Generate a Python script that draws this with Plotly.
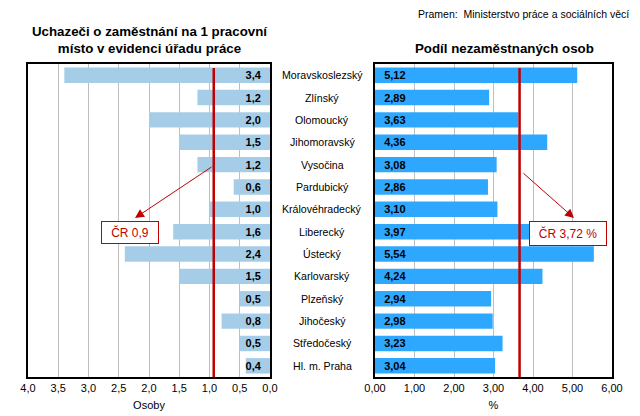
import plotly.graph_objects as go

# kraje odshora dolu
kraje = ["Moravskoslezský", "Zlínský", "Olomoucký", "Jihomoravský", "Vysočina",
         "Pardubický", "Královéhradecký", "Liberecký", "Ústecký", "Karlovarský",
         "Plzeňský", "Jihočeský", "Středočeský", "Hl. m. Praha"]
uchazeci = [3.4, 1.2, 2.0, 1.5, 1.2, 0.6, 1.0, 1.6, 2.4, 1.5, 0.5, 0.8, 0.5, 0.4]
podil = [5.12, 2.89, 3.63, 4.36, 3.08, 2.86, 3.10, 3.97, 5.54, 4.24, 2.94, 2.98, 3.23, 3.04]
cr_uchazeci = 0.93
cr_podil = 3.66
cr_uchazeci_text = "ČR 0,9"
cr_podil_text = "ČR 3,72 %"

FONT = "Arial, Liberation Sans, sans-serif"
RED = "#C00000"
W, H = 640, 416
OFF = 8  # okraj stranky v prohlizeci


def px(x):
    return (x - OFF) / W


def py(y):
    return 1 - (y - OFF) / H


fig = go.Figure()

fig.add_trace(go.Bar(
    y=kraje, x=uchazeci, orientation="h",
    marker=dict(color="#A6CDE8", line=dict(width=0)),
    texttemplate="<b>%{x:.1f}</b>\u00a0\u00a0",
    textposition="inside", insidetextanchor="start",
    textfont=dict(size=11, color="black", family=FONT),
    constraintext="none",
    xaxis="x", yaxis="y", showlegend=False, hoverinfo="x+y"))

fig.add_trace(go.Bar(
    y=kraje, x=podil, orientation="h",
    marker=dict(color="#2EA8FF", line=dict(width=0)),
    texttemplate="\u00a0\u00a0<b>%{x:.2f}</b>",
    textposition="inside", insidetextanchor="start",
    textfont=dict(size=11, color="black", family=FONT),
    constraintext="none",
    xaxis="x2", yaxis="y2", showlegend=False, hoverinfo="x+y"))

axis_common = dict(showline=True, linecolor="black", linewidth=1.5, mirror=True,
                   showgrid=True, gridcolor="#BFBFBF", gridwidth=1, zeroline=False,
                   automargin=False, ticks="",
                   tickfont=dict(size=11, family=FONT, color="black"))

yaxis_common = dict(domain=[py(377), py(64)], autorange="reversed", automargin=False,
                    showticklabels=False, showline=True, linecolor="black", linewidth=1.5,
                    mirror=True, showgrid=False, ticks="")

fig.update_layout(
    width=W, height=H,
    margin=dict(l=0, r=0, t=0, b=0, autoexpand=False),
    paper_bgcolor="white", plot_bgcolor="white",
    separators=", ",
    bargap=0.31,
    font=dict(family=FONT, color="black"),
    xaxis=dict(domain=[px(28), px(270)], range=[4, 0], dtick=0.5, tickformat=".1f",
               anchor="y", title=dict(text="Osoby", font=dict(size=11), standoff=8),
               **axis_common),
    xaxis2=dict(domain=[px(375), px(612)], range=[0, 6], dtick=1, tickformat=".2f",
                anchor="y2", title=dict(text="%", font=dict(size=11), standoff=8),
                **axis_common),
    yaxis=dict(anchor="x", **yaxis_common),
    yaxis2=dict(anchor="x2", **yaxis_common),
)

# nazvy kraju uprostred
for k in kraje:
    fig.add_annotation(x=px(322), xref="paper", y=k, yref="y", text=k,
                       showarrow=False, xanchor="center", yanchor="middle",
                       font=dict(size=10.6, family=FONT, color="black"))

# CR cary
fig.add_shape(type="line", xref="x", yref="y domain", x0=cr_uchazeci, x1=cr_uchazeci,
              y0=0, y1=0.987, line=dict(color=RED, width=2.5))
fig.add_shape(type="line", xref="x2", yref="y2 domain", x0=cr_podil, x1=cr_podil,
              y0=0, y1=0.987, line=dict(color=RED, width=2.5))

# sipky
fig.add_annotation(x=px(135), y=py(218), xref="paper", yref="paper", text="",
                   showarrow=True, arrowhead=2, arrowsize=1.8, arrowwidth=1, arrowcolor=RED,
                   ax=78, ay=-52)
fig.add_annotation(x=px(574), y=py(218), xref="paper", yref="paper", text="",
                   showarrow=True, arrowhead=2, arrowsize=1.8, arrowwidth=1, arrowcolor=RED,
                   ax=-52, ay=-46)

# popisky CR
fig.add_annotation(x=px(129.5), y=py(232), xref="paper", yref="paper",
                   xanchor="center", yanchor="middle",
                   text=cr_uchazeci_text, showarrow=False, bgcolor="white",
                   bordercolor=RED, borderwidth=1, borderpad=3, width=50,
                   font=dict(size=12, color=RED, family=FONT))
fig.add_annotation(x=px(568), y=py(233), xref="paper", yref="paper",
                   xanchor="center", yanchor="middle",
                   text=cr_podil_text, showarrow=False, bgcolor="white",
                   bordercolor=RED, borderwidth=1, borderpad=4, width=68,
                   font=dict(size=12, color=RED, family=FONT))

# nadpisy
fig.add_annotation(x=px(150), y=py(40), xref="paper", yref="paper",
                   xanchor="center", yanchor="middle",
                   text="<b>Uchazeči o zaměstnání na 1 pracovní<br>místo v evidenci úřadu práce</b>",
                   showarrow=False, font=dict(size=13.3, family=FONT, color="black"))
fig.add_annotation(x=px(504), y=py(49), xref="paper", yref="paper",
                   xanchor="center", yanchor="middle",
                   text="<b>Podíl nezaměstnaných osob</b>",
                   showarrow=False, font=dict(size=13.3, family=FONT, color="black"))
fig.add_annotation(x=px(631), y=py(14), xref="paper", yref="paper",
                   xanchor="right", yanchor="middle",
                   text="Pramen:  Ministerstvo práce a sociálních věcí",
                   showarrow=False, font=dict(size=10.5, family=FONT, color="black"))

fig.write_html("out.html")
